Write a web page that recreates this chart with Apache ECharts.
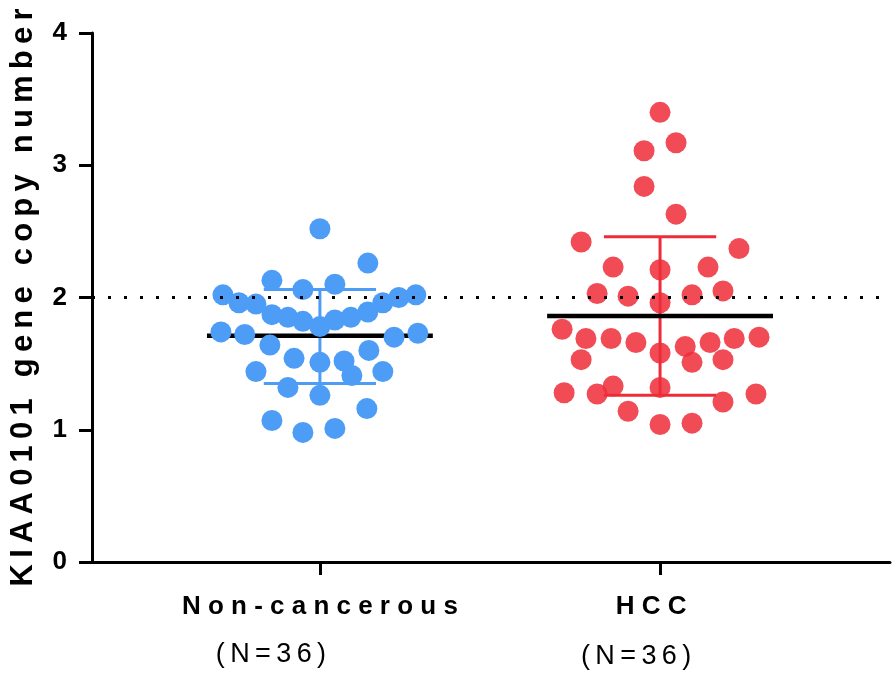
<!DOCTYPE html>
<html>
<head>
<meta charset="utf-8">
<script src="https://cdn.jsdelivr.net/npm/echarts@6/dist/echarts.min.js"></script>
<style>
  html, body { margin: 0; padding: 0; background: #fff; }
  #chart { width: 894px; height: 681px; }
</style>
</head>
<body>
<div id="chart"></div>
<script>
// groups on the x axis (placed at x = 0 and x = 1)
const groups = ["Non-cancerous", "HCC"];
const groupN = [36, 36];
const yTicks = [0, 1, 2, 3, 4];
const refLevel = 2;

// Non-cancerous: copy number and horizontal swarm offset (x units)
const ncValues = [2.52, 2.26, 2.13, 2.06, 2.10, 2.02, 1.96, 1.95, 1.87, 1.85, 1.82, 1.78,
  1.83, 1.85, 1.89, 1.96, 2.00, 2.02, 1.74, 1.72, 1.70, 1.73, 1.64, 1.60, 1.54, 1.51,
  1.52, 1.41, 1.44, 1.44, 1.32, 1.26, 1.16, 1.07, 0.98, 1.01];
const ncOffsets = [0, 0.141, -0.141, -0.05, 0.044, -0.285, -0.238, -0.188, -0.141, -0.094, -0.05, 0,
  0.044, 0.091, 0.141, 0.185, 0.232, 0.282, -0.291, -0.221, 0.218, 0.288, -0.147, 0.144, -0.076, 0,
  0.071, 0.094, -0.188, 0.185, -0.094, 0, 0.138, -0.141, -0.05, 0.044];

// HCC
const hccValues = [3.40, 3.11, 3.17, 2.84, 2.63, 2.42, 2.37, 2.23, 2.21, 2.23, 2.03, 2.01,
  1.96, 2.02, 2.05, 1.76, 1.69, 1.69, 1.66, 1.63, 1.66, 1.69, 1.70, 1.53, 1.58, 1.51,
  1.53, 1.28, 1.27, 1.33, 1.32, 1.21, 1.27, 1.14, 1.04, 1.05];
const hccOffsets = [0, -0.047, 0.047, -0.047, 0.047, -0.232, 0.232, -0.138, 0, 0.141, -0.185, -0.094,
  0, 0.094, 0.185, -0.288, -0.218, -0.144, -0.071, 0.074, 0.147, 0.218, 0.291, -0.232, 0, 0.094,
  0.185, -0.282, -0.185, -0.138, 0, 0.185, 0.282, -0.094, 0, 0.094];

// mean and mean +/- SD
const means = [1.71, 1.86];
const sdLow = [1.35, 1.26];
const sdHigh = [2.06, 2.46];

const colors = ["#4d9df7", "#ee2b38"];
const font = "'Liberation Sans', Arial, sans-serif";
const spaced = (s, gap = " ") => s.split("").join(gap);

const chart = echarts.init(document.getElementById("chart"));

function swarm(values, offsets, g) {
  return values.map((v, i) => [g + offsets[i], v]);
}

chart.setOption({
  backgroundColor: "#fff",
  animation: false,
  grid: { left: 92, right: 4, top: 33, bottom: 119 },
  xAxis: {
    type: "value",
    min: -0.67,
    max: 1.676,
    splitLine: { show: false },
    axisLine: { onZero: false, lineStyle: { color: "#000", width: 3 } },
    axisTick: { customValues: [0, 1], length: 13, lineStyle: { color: "#000", width: 3 } },
    axisLabel: {
      customValues: [0, 1],
      margin: 27,
      fontFamily: font,
      color: "#000",
      formatter: (v) => {
        const g = Math.round(v);
        const name = "{g" + g + "|" + spaced(groups[g]) + "}";
        return name + "\n{n" + g + "|" + spaced("(N=" + groupN[g] + ")", "\u2009") + "}";
      },
      rich: {
        g0: { fontFamily: font, fontSize: 26, fontWeight: "bold", color: "#000", lineHeight: 36 },
        g1: { fontFamily: font, fontSize: 26, fontWeight: "bold", color: "#000", lineHeight: 36, padding: [0, 18, 0, 0] },
        n0: { fontFamily: font, fontSize: 27, color: "#000", lineHeight: 60, padding: [0, 98, 0, 0] },
        n1: { fontFamily: font, fontSize: 27, color: "#000", lineHeight: 64, padding: [0, 48, 0, 0] }
      }
    }
  },
  yAxis: {
    type: "value",
    min: yTicks[0],
    max: yTicks[yTicks.length - 1],
    interval: 1,
    name: spaced("KIAA0101 gene copy number", "\u2009"),
    nameLocation: "middle",
    nameGap: 53,
    nameTextStyle: { fontFamily: font, fontSize: 31, fontWeight: "bold", color: "#000" },
    splitLine: { show: false },
    axisLine: { show: true, onZero: false, lineStyle: { color: "#000", width: 3 } },
    axisTick: { show: true, length: 13, lineStyle: { color: "#000", width: 3 } },
    axisLabel: { margin: 25, fontFamily: font, fontSize: 26, fontWeight: "bold", color: "#000" }
  },
  series: [
    {
      type: "custom",
      z: 1,
      data: groups.map((_, g) => [g, means[g], sdLow[g], sdHigh[g]]),
      renderItem: (params, api) => {
        const g = api.value(0);
        const m = api.value(1), lo = api.value(2), hi = api.value(3);
        const c = colors[g];
        const seg = (x1, y1, x2, y2, color, w) => {
          const a = api.coord([x1, y1]);
          const b = api.coord([x2, y2]);
          return {
            type: "line",
            shape: { x1: a[0], y1: a[1], x2: b[0], y2: b[1] },
            style: { stroke: color, lineWidth: w }
          };
        };
        return {
          type: "group",
          children: [
            seg(g, lo, g, hi, c, 3),
            seg(g - 0.165, hi, g + 0.165, hi, c, 3),
            seg(g - 0.165, lo, g + 0.165, lo, c, 3),
            seg(g - 0.332, m, g + 0.332, m, "#000", 4.5)
          ]
        };
      },
      markLine: {
        silent: true,
        symbol: "none",
        label: { show: false },
        lineStyle: { color: "#000", type: [3, 13], width: 3 },
        data: [{ yAxis: refLevel }]
      }
    },
    {
      type: "scatter",
      z: 3,
      symbolSize: 21,
      itemStyle: { color: colors[0], opacity: 1 },
      data: swarm(ncValues, ncOffsets, 0)
    },
    {
      type: "scatter",
      z: 3,
      symbolSize: 21,
      itemStyle: { color: colors[1], opacity: 0.85 },
      data: swarm(hccValues, hccOffsets, 1)
    }
  ]
});
</script>
</body>
</html>
